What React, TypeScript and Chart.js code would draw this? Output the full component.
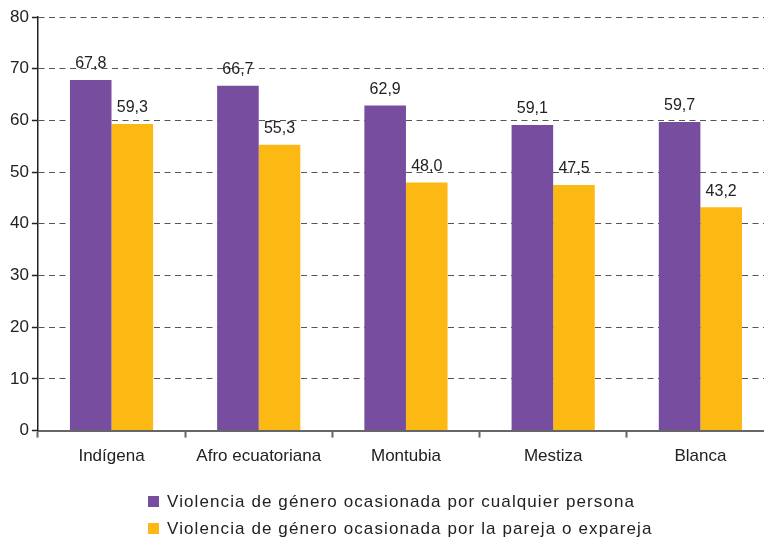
import React, { useEffect, useRef } from "react";
import { Chart, registerables } from "chart.js";

Chart.register(...registerables);

const categories = ["Indígena", "Afro ecuatoriana", "Montubia", "Mestiza", "Blanca"];
const cualquierPersona = [67.8, 66.7, 62.9, 59.1, 59.7];
const parejaExpareja = [59.3, 55.3, 48.0, 47.5, 43.2];
const seriesNames = [
  "Violencia de género ocasionada por cualquier persona",
  "Violencia de género ocasionada por la pareja o expareja",
];
const seriesColors = ["#774E9F", "#FDB913"];
const yMin = 0;
const yMax = 80;
const yStep = 10;

const FONT = "'Liberation Sans', Arial, sans-serif";

const valueLabels = {
  id: "valueLabels",
  afterDatasetsDraw(chart: any) {
    const ctx = chart.ctx;
    ctx.save();
    ctx.font = `16px ${FONT}`;
    ctx.fillStyle = "#222";
    ctx.textAlign = "center";
    ctx.textBaseline = "bottom";
    chart.data.datasets.forEach((ds: any, i: number) => {
      const meta = chart.getDatasetMeta(i);
      meta.data.forEach((el: any, j: number) => {
        const v = ds.data[j] as number;
        ctx.fillText(v.toFixed(1).replace(".", ","), el.x, el.y - 8);
      });
    });
    ctx.restore();
  },
};

export default function App() {
  const ref = useRef<HTMLCanvasElement>(null);
  useEffect(() => {
    if (!ref.current) return;
    const chart = new Chart(ref.current, {
      type: "bar",
      data: {
        labels: categories,
        datasets: [
          { label: seriesNames[0], data: cualquierPersona, backgroundColor: seriesColors[0] },
          { label: seriesNames[1], data: parejaExpareja, backgroundColor: seriesColors[1] },
        ],
      },
      options: {
        animation: false,
        responsive: false,
        maintainAspectRatio: false,
        devicePixelRatio: 1,
        layout: { padding: { left: 7, top: 17, right: 6, bottom: 61 } },
        datasets: {
          bar: { categoryPercentage: 0.565, barPercentage: 1 },
        },
        plugins: {
          legend: { display: false },
          tooltip: { enabled: false },
        },
        scales: {
          x: {
            grid: {
              display: true,
              drawOnChartArea: false,
              drawTicks: true,
              tickLength: 7,
              offset: true,
              tickColor: "#666",
              tickWidth: 2,
            },
            border: { display: true, color: "#666", width: 2 },
            ticks: {
              color: "#222",
              font: { family: FONT, size: 17 },
              padding: 9,
              maxRotation: 0,
            },
          },
          y: {
            min: yMin,
            max: yMax,
            ticks: {
              stepSize: yStep,
              color: "#222",
              font: { family: FONT, size: 17 },
              padding: 3,
            },
            grid: {
              color: "#555",
              lineWidth: 1,
              tickLength: 6,
              tickColor: "#222",
              tickWidth: 1.5,
            },
            border: { display: true, color: "#222", width: 1.5, dash: [6, 4.5] },
          },
        },
      },
      plugins: [valueLabels],
    });
    return () => chart.destroy();
  }, []);

  return (
    <div
      style={{
        position: "fixed",
        left: 0,
        top: 0,
        width: 764,
        height: 537,
        overflow: "hidden",
        background: "#fff",
      }}
    >
      <canvas ref={ref} width={780} height={537} style={{ position: "absolute", left: 0, top: 0 }} />
      <div
        style={{
          position: "absolute",
          left: 148,
          top: 488,
          fontFamily: FONT,
          fontSize: 17,
          letterSpacing: "1.1px",
          color: "#222",
        }}
      >
        {seriesNames.map((n, i) => (
          <div key={n} style={{ display: "flex", alignItems: "center", height: 27, whiteSpace: "nowrap" }}>
            <span
              style={{
                display: "inline-block",
                width: 11,
                height: 11,
                background: seriesColors[i],
                marginRight: 8,
              }}
            />
            <span>{n}</span>
          </div>
        ))}
      </div>
    </div>
  );
}
